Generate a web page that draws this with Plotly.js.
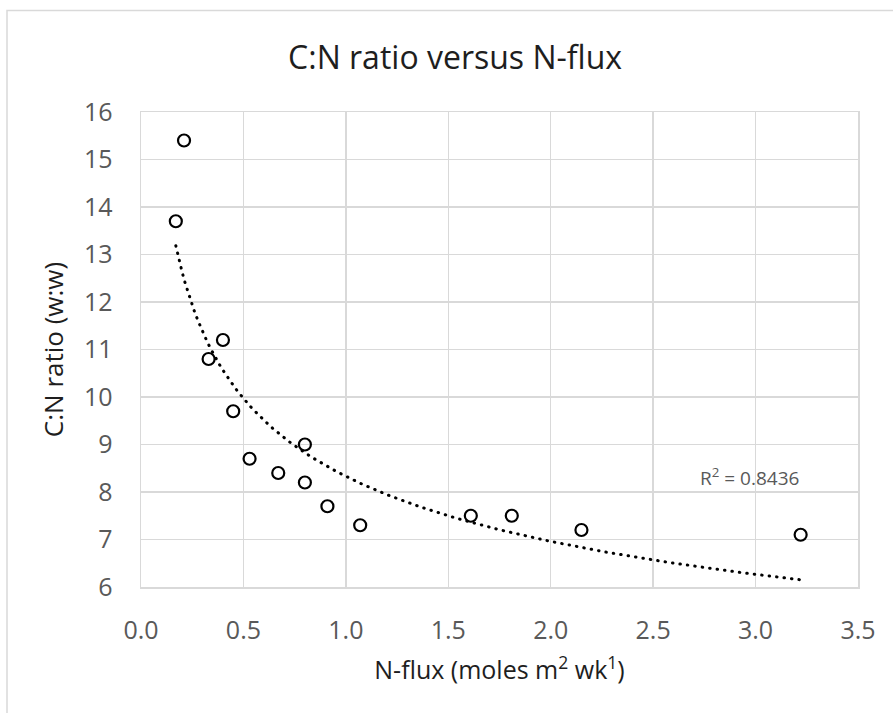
<!DOCTYPE html>
<html>
<head>
<meta charset="utf-8">
<script src="https://cdn.plot.ly/plotly-3.0.1.min.js"></script>
<style>
  html, body { margin: 0; padding: 0; background: #ffffff; }
  #chart { width: 893px; height: 713px; }
  #chart path.js-line { stroke-linecap: round; }
</style>
</head>
<body>
<div id="chart"></div>
<script>
// ---- Data ----
const nFlux   = [0.21, 0.17, 0.40, 0.33, 0.45, 0.53, 0.67, 0.80, 0.80, 0.91, 1.07, 1.61, 1.81, 2.15, 3.22];
const cnRatio = [15.4, 13.7, 11.2, 10.8, 9.7, 8.7, 8.4, 9.0, 8.2, 7.7, 7.3, 7.5, 7.5, 7.2, 7.1];
const xTickVals = [0, 0.5, 1, 1.5, 2, 2.5, 3, 3.5];
const xTickText = ["0.0", "0.5", "1.0", "1.5", "2.0", "2.5", "3.0", "3.5"];
const yTickVals = [6, 7, 8, 9, 10, 11, 12, 13, 14, 15, 16];
const rSquaredLabel = "R<sup>2</sup> = 0.8436";

// ---- Power trendline (least squares in log-log space, like Excel) ----
function powerFit(xs, ys) {
  const lx = xs.map(Math.log), ly = ys.map(Math.log);
  const n = xs.length;
  const mx = lx.reduce((a, b) => a + b, 0) / n;
  const my = ly.reduce((a, b) => a + b, 0) / n;
  let sxy = 0, sxx = 0;
  for (let i = 0; i < n; i++) { sxy += (lx[i] - mx) * (ly[i] - my); sxx += (lx[i] - mx) ** 2; }
  const b = sxy / sxx;
  const a = Math.exp(my - b * mx);
  return { a, b };
}
const fit = powerFit(nFlux, cnRatio);
const xMin = Math.min(...nFlux), xMax = Math.max(...nFlux);
const trendX = [], trendY = [];
const steps = 200;
for (let i = 0; i <= steps; i++) {
  const x = xMin + (xMax - xMin) * i / steps;
  trendX.push(x);
  trendY.push(fit.a * Math.pow(x, fit.b));
}

const FONT = "Open Sans, Noto Sans, sans-serif";
const GRID = "#d9d9d9";
const TICK = "#595959";

const traces = [
  {
    x: trendX, y: trendY, type: "scatter", mode: "lines",
    line: { color: "#000000", width: 3, dash: "0.5px,7px" },
    hoverinfo: "skip", showlegend: false
  },
  {
    x: nFlux, y: cnRatio, type: "scatter", mode: "markers",
    marker: { symbol: "circle-open", size: 12, color: "#000000", line: { width: 2.2, color: "#000000" } },
    showlegend: false
  }
];

const layout = {
  width: 893, height: 713,
  paper_bgcolor: "#ffffff", plot_bgcolor: "#ffffff",
  margin: { l: 141, r: 35, t: 112, b: 126, pad: 0 },
  showlegend: false,
  title: {
    text: "C:N ratio versus N-flux",
    font: { family: FONT, size: 32, color: "#1e1e1e" },
    x: 0.438, xref: "paper", xanchor: "center",
    y: 1 - 58 / 713, yref: "container", yanchor: "middle"
  },
  xaxis: {
    range: [0, 3.5], tickmode: "array", tickvals: xTickVals, ticktext: xTickText,
    showgrid: true, gridcolor: GRID, gridwidth: 1.5,
    showline: true, linecolor: GRID, linewidth: 1.5, mirror: true,
    zeroline: false, ticks: "", ticklabelstandoff: 20,
    tickfont: { family: FONT, size: 25, color: TICK },
    title: { text: "N-flux (moles m<sup>2</sup> wk<sup>1</sup>)", standoff: 17,
             font: { family: FONT, size: 25, color: "#1e1e1e" } },
    fixedrange: true
  },
  yaxis: {
    range: [6, 16], tickmode: "array", tickvals: yTickVals,
    showgrid: true, gridcolor: GRID, gridwidth: 1.5,
    showline: true, linecolor: GRID, linewidth: 1.5, mirror: true,
    zeroline: false, ticks: "", ticklabelstandoff: 22,
    tickfont: { family: FONT, size: 25, color: TICK },
    title: { text: "C:N ratio (w:w)", standoff: 13,
             font: { family: FONT, size: 26, color: "#1e1e1e" } },
    fixedrange: true
  },
  annotations: [
    { x: 2.97, y: 8.31, xref: "x", yref: "y", text: rSquaredLabel, showarrow: false,
      xanchor: "center", yanchor: "middle",
      font: { family: FONT, size: 19, color: TICK } }
  ],
  shapes: [
    { type: "rect", xref: "paper", yref: "paper",
      x0: (7 - 141) / 717, x1: 1.3, y0: -0.5, y1: (587.5 - 11) / 475,
      line: { color: GRID, width: 1.5 }, fillcolor: "rgba(0,0,0,0)", layer: "below" }
  ]
};

Plotly.newPlot("chart", traces, layout, { displayModeBar: false, staticPlot: true });
</script>
</body>
</html>
